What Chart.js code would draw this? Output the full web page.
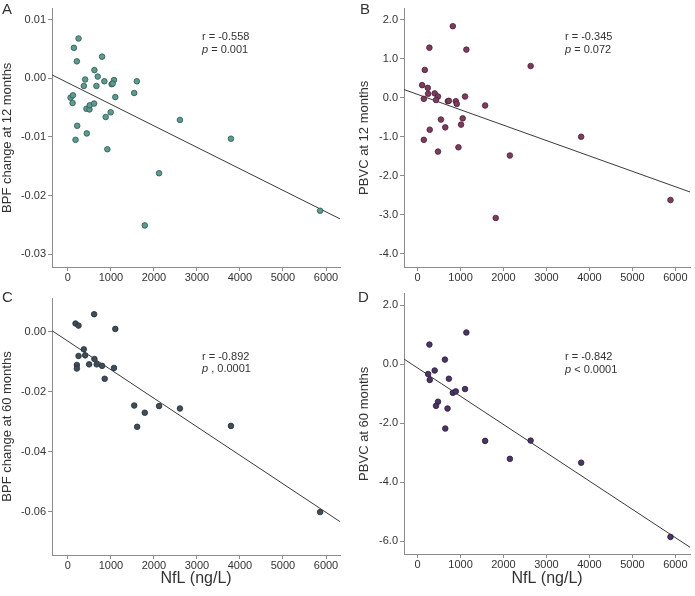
<!DOCTYPE html>
<html>
<head>
<meta charset="utf-8">
<script src="https://cdn.jsdelivr.net/npm/chart.js@4/dist/chart.umd.min.js"></script>
<style>
  body { margin: 0; background: #fff; }
  #wrap { position: relative; width: 695px; height: 596px; }
  .panel { position: absolute; }
</style>
</head>
<body>
<div id="wrap">
  <div class="panel" style="left:0;top:0;width:345px;height:290px"><canvas id="chartA"></canvas></div>
  <div class="panel" style="left:345px;top:0;width:350px;height:290px"><canvas id="chartB"></canvas></div>
  <div class="panel" style="left:0;top:285px;width:345px;height:311px"><canvas id="chartC"></canvas></div>
  <div class="panel" style="left:345px;top:285px;width:350px;height:311px"><canvas id="chartD"></canvas></div>
</div>
<script>
// values
const xTicks = [0, 1000, 2000, 3000, 4000, 5000, 6000];

const nflA = [247, 139, 208, 794, 616, 693, 401, 370, 663, 847, 1071, 1017, 1040, 1102, 1541, 1602, 62, 116, 108, 431,
  501, 508, 609, 994, 878, 216, 439, 177, 917, 2604, 3790, 2119, 1787, 5863];
const bpf12 = [0.0068, 0.0052, 0.0029, 0.0037, 0.0014, 0.0003, -0.0002, -0.0013, -0.0013, -0.0005, -0.0003, -0.0010,
  -0.0009, -0.0032, -0.0025, -0.0005, -0.0033, -0.0029, -0.0042, -0.0052, -0.0053, -0.0046, -0.0043, -0.0058,
  -0.0066, -0.0081, -0.0094, -0.0105, -0.0121, -0.0071, -0.0103, -0.0162, -0.0251, -0.0226];

const nflB = [821, 276, 1136, 2632, 169, 107, 238, 246, 399, 146, 476, 430, 706, 729, 890, 913, 1105, 1573, 545, 1051,
  645, 1013, 284, 146, 952, 476, 3807, 2149, 1819, 5886];
const pbvc12 = [1.83, 1.28, 1.23, 0.81, 0.71, 0.32, 0.25, 0.10, 0.11, -0.03, 0.03, -0.06, -0.09, -0.08, -0.09, -0.16,
  0.03, -0.20, -0.56, -0.53, -0.76, -0.69, -0.82, -1.08, -1.27, -1.38, -1.00, -1.48, -3.08, -2.62];

const nflC = [609, 177, 247, 1102, 370, 247, 401, 616, 208, 208, 493, 670, 794, 1071, 855, 1541, 2119, 2604, 1787, 1610,
  3790, 5863];
const bpf60 = [0.0058, 0.0027, 0.0020, 0.0009, -0.0059, -0.0081, -0.0079, -0.0091, -0.0111, -0.0123, -0.0109, -0.0109,
  -0.0114, -0.0121, -0.0157, -0.0246, -0.0248, -0.0256, -0.0270, -0.0317, -0.0314, -0.0601];

const nflD = [1136, 276, 637, 399, 246, 284, 729, 1105, 821, 890, 476, 430, 698, 645, 1573, 2632, 2149, 3807, 5886];
const pbvc60 = [1.08, 0.67, 0.16, -0.21, -0.33, -0.53, -0.49, -0.84, -0.97, -0.92, -1.27, -1.41, -1.50, -2.18, -2.60,
  -2.59, -3.21, -3.34, -5.86];

// regression lines (intercept, slope) as drawn
const fitIntercept = [-0.00077, 0.084, -0.0032, -0.124];
const fitSlope = [-3.67e-6, -3.94e-4, -9.5e-6, -9.6e-4];

const stats = [
  ['r = -0.558', ' = 0.001'],
  ['r = -0.345', ' = 0.072'],
  ['r = -0.892', ' , 0.0001'],
  ['r = -0.842', ' < 0.0001']
];

const FONT = 'Liberation Sans, Arial, sans-serif';
const AXIS = '#8c8c8c';
const TXT = '#333';

// panel letter + r/p text
const textPlugin = {
  id: 'panelText',
  afterDraw(chart) {
    const o = chart.options.plugins.panelText;
    const c = chart.ctx;
    c.save();
    c.fillStyle = TXT;
    c.textBaseline = 'alphabetic';
    c.font = '15px ' + FONT;
    c.fillText(o.letter, o.lx, o.ly);
    c.font = '11px ' + FONT;
    c.textBaseline = 'middle';
    c.fillText(o.lines[0], o.sx, o.sy);
    c.font = 'italic 11px ' + FONT;
    c.fillText('p', o.sx, o.sy + 12.5);
    const w = c.measureText('p').width;
    c.font = '11px ' + FONT;
    c.fillText(o.lines[1], o.sx + w, o.sy + 12.5);
    c.restore();
  }
};

function makeChart(id, cfg) {
  const pts = cfg.xs.map((x, i) => ({ x: x, y: cfg.ys[i] }));
  const b = fitIntercept[cfg.idx], m = fitSlope[cfg.idx];
  const line = [cfg.xMin, cfg.xMax].map(x => ({ x: x, y: b + m * x }));
  return new Chart(document.getElementById(id), {
    type: 'scatter',
    data: {
      datasets: [{
        data: pts,
        backgroundColor: cfg.fill,
        borderColor: cfg.edge,
        borderWidth: 0.8,
        pointRadius: 2.8
      }, {
        type: 'line',
        data: line,
        borderColor: '#3a3a3a',
        borderWidth: 1,
        pointRadius: 0,
        fill: false
      }]
    },
    options: {
      responsive: true,
      maintainAspectRatio: false,
      animation: false,
      layout: { padding: { top: cfg.padTop, right: cfg.padRight, left: 0, bottom: 0 } },
      plugins: {
        legend: { display: false },
        tooltip: { enabled: false },
        panelText: cfg.text
      },
      scales: {
        x: {
          type: 'linear',
          min: cfg.xMin,
          max: cfg.xMax,
          afterBuildTicks: s => { s.ticks = xTicks.map(v => ({ value: v })); },
          afterFit: s => { s.height = cfg.xHeight; },
          ticks: {
            color: TXT,
            font: { family: FONT, size: 11 },
            padding: 0,
            maxRotation: 0,
            callback: v => String(v)
          },
          grid: { drawOnChartArea: false, color: AXIS, tickLength: 4 },
          border: { color: AXIS },
          title: {
            display: !!cfg.xTitle,
            text: cfg.xTitle || '',
            color: TXT,
            font: { family: FONT, size: 16 },
            padding: { top: 0, bottom: 8 }
          }
        },
        y: {
          min: cfg.yMin,
          max: cfg.yMax,
          afterBuildTicks: s => { s.ticks = cfg.yTicks.map(v => ({ value: v })); },
          afterFit: s => { s.width = cfg.yWidth; },
          ticks: {
            color: TXT,
            font: { family: FONT, size: 11 },
            padding: 2,
            callback: v => v.toFixed(cfg.dec)
          },
          grid: { drawOnChartArea: false, color: AXIS, tickLength: 4 },
          border: { color: AXIS },
          title: {
            display: true,
            text: cfg.yTitle,
            color: TXT,
            font: { family: FONT, size: 13 },
            padding: { top: cfg.yTitlePad, bottom: 0 }
          }
        }
      }
    },
    plugins: [textPlugin]
  });
}

makeChart('chartA', {
  idx: 0, xs: nflA, ys: bpf12, fill: '#5c9b90', edge: '#2e5650',
  xMin: -370, xMax: 6330, yMin: -0.0322, yMax: 0.0119,
  yTicks: [0.01, 0, -0.01, -0.02, -0.03], dec: 2,
  yTitle: 'BPF change at 12 months', yTitlePad: 0,
  padTop: 2, padRight: 3, yWidth: 52, xHeight: 23,
  text: { letter: 'A', lx: 2, ly: 14, lines: stats[0], sx: 202, sy: 37 }
});

makeChart('chartB', {
  idx: 1, xs: nflB, ys: pbvc12, fill: '#7c3c5e', edge: '#4a1e37',
  xMin: -315, xMax: 6345, yMin: -4.335, yMax: 2.28,
  yTicks: [2, 1, 0, -1, -2, -3, -4], dec: 1,
  yTitle: 'PBVC at 12 months', yTitlePad: 12,
  padTop: 2, padRight: 2, yWidth: 59, xHeight: 23,
  text: { letter: 'B', lx: 15, ly: 14, lines: stats[1], sx: 220, sy: 37 }
});

makeChart('chartC', {
  idx: 2, xs: nflC, ys: bpf60, fill: '#3e4d59', edge: '#243039',
  xMin: -370, xMax: 6330, yMin: -0.0744, yMax: 0.0112,
  yTicks: [0, -0.02, -0.04, -0.06], dec: 2,
  yTitle: 'BPF change at 60 months', yTitlePad: 0,
  xTitle: 'NfL (ng/L)',
  padTop: 13, padRight: 3, yWidth: 52, xHeight: 41,
  text: { letter: 'C', lx: 2, ly: 16.5, lines: stats[2], sx: 202, sy: 71.5 }
});

makeChart('chartD', {
  idx: 3, xs: nflD, ys: pbvc60, fill: '#4b3565', edge: '#2b1c3d',
  xMin: -315, xMax: 6345, yMin: -6.44, yMax: 2.4,
  yTicks: [2, 0, -2, -4, -6], dec: 1,
  yTitle: 'PBVC at 60 months', yTitlePad: 12,
  xTitle: 'NfL (ng/L)',
  padTop: 4, padRight: 2, yWidth: 59, xHeight: 42,
  text: { letter: 'D', lx: 13, ly: 17, lines: stats[3], sx: 220, sy: 72 }
});
</script>
</body>
</html>
